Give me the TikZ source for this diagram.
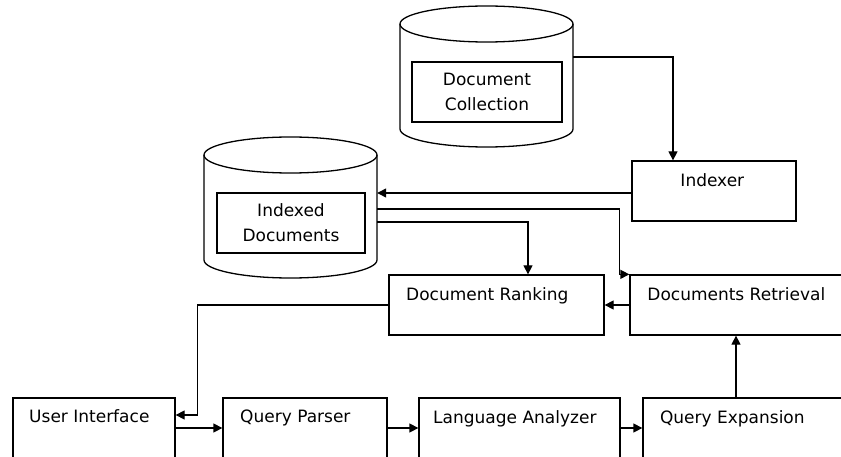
\documentclass[tikz,border=0pt]{standalone}
\usepackage{fontspec}
\setmainfont{DejaVu Sans}
\usetikzlibrary{arrows.meta,calc,positioning}
\tikzset{
  box/.style={draw,rectangle,line width=1.3pt,inner sep=0pt,minimum height=60pt},
  store/.style={draw,rectangle,line width=1.3pt,inner sep=0pt,minimum width=150pt,minimum height=60pt,align=center,font=\fontsize{17}{25}\selectfont},
  lbl/.style={inner sep=0pt,text height=12.5pt,text depth=0pt,font=\fontsize{17}{20}\selectfont},
  hull/.style={inner sep=0pt,minimum width=173pt,minimum height=141pt},
  arr/.style={line width=1.3pt,-{Triangle[length=9pt,width=9pt]}}
}
\begin{document}
\begin{tikzpicture}[x=1pt,y=-1pt]
\useasboundingbox (0,0) rectangle (841,457);
\clip (0,0) rectangle (841,457);
% the two stores
\node[hull] (collcyl) at (486.5,76.5) {};
\draw[line width=1.3pt] (486.5,24) ellipse [x radius=86.5pt,y radius=18pt];
\draw[line width=1.3pt] (400,24) -- (400,129) arc[start angle=180,end angle=360,x radius=86.5pt,y radius=18pt] -- (573,24);
\node[store] (coll) at (487,92) {Document\\Collection};
\node[hull] (idxcyl) at (290.5,207.5) {};
\draw[line width=1.3pt] (290.5,155) ellipse [x radius=86.5pt,y radius=18pt];
\draw[line width=1.3pt] (204,155) -- (204,260) arc[start angle=180,end angle=360,x radius=86.5pt,y radius=18pt] -- (377,155);
\node[store,minimum width=148pt] (idxd) at (291,223) {Indexed\\Documents};
% boxes
\node[box,minimum width=164pt] (idx) at (714,191) {};
\node[box,minimum width=215pt] (rank) at (496.5,305) {};
\node[box,minimum width=260pt] (retr) at (760,305) {};
\node[box,minimum width=162pt] (ui) at (94,428) {};
\node[box,minimum width=164pt] (qp) at (305,428) {};
\node[box,minimum width=201pt] (la) at (519.5,428) {};
\node[box,minimum width=260pt] (qe) at (773,428) {};
\node[lbl] (idx-t) at ($(idx.north west)+(81,20)$) {Indexer};
\node[lbl] (rank-t) at ($(rank.north west)+(99,20)$) {Document Ranking};
\node[lbl] (retr-t) at ($(retr.north west)+(107,20)$) {Documents Retrieval};
\node[lbl] (ui-t) at ($(ui.north west)+(77,19)$) {User Interface};
\node[lbl] (qp-t) at ($(qp.north west)+(73,19)$) {Query Parser};
\node[lbl] (la-t) at ($(la.north west)+(96.5,20)$) {Language Analyzer};
\node[lbl] (qe-t) at ($(qe.north west)+(90,20)$) {Query Expansion};
% connectors
\draw[arr] ([yshift=19.5pt]collcyl.east) -| ([xshift=-41pt]idx.north);
\draw[arr] ([yshift=-2pt]idx.west) -- ([yshift=-2pt]idx.west -| idxcyl.east);
\draw[arr] ([yshift=-1.5pt]idxcyl.east) -| ([xshift=-10pt]retr.north west) -- (retr.north west);
\draw[arr] ([yshift=-14.5pt]idxcyl.east) -| ([xshift=31.5pt]rank.north);
\draw[arr] (retr.west) -- (rank.east);
\draw[arr] (rank.west) -| ([xshift=22pt,yshift=13pt]ui.east) -- ([yshift=13pt]ui.east);
\draw[arr] (ui.east) -- (qp.west);
\draw[arr] (qp.east) -- (la.west);
\draw[arr] (la.east) -- (qe.west);
\draw[arr] ([xshift=-37pt]qe.north) -- ([xshift=-37pt]qe.north |- retr.south);
\end{tikzpicture}
\end{document}
